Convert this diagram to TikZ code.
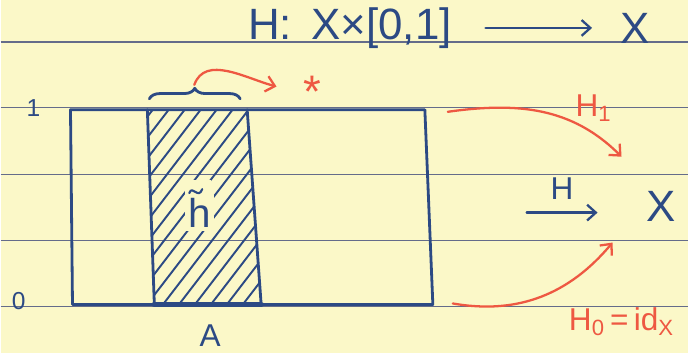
\documentclass[tikz,border=0pt]{standalone}
\usepackage{fontspec}
\setmainfont{Liberation Sans}
\usetikzlibrary{positioning, arrows.meta, calc, decorations.pathreplacing}
\definecolor{paper_yellow}{RGB}{251,248,200}
\definecolor{ink_blue}{RGB}{44,74,132}
\definecolor{ink_red}{RGB}{238,88,66}
\definecolor{rule_grey}{RGB}{100,108,138}

\begin{document}
\begin{tikzpicture}[x=0.02cm, y=-0.02cm, >={Straight Barb[length=5pt,width=9pt]},
    ink/.style={draw=ink_blue, line width=1.6pt, line join=round, line cap=round},
    redink/.style={draw=ink_red, line width=1.3pt, line cap=round, ->},
    bluetxt/.style={text=ink_blue, inner sep=1pt, font=\fontsize{18}{20}\selectfont},
    redtxt/.style={text=ink_red, inner sep=1pt, font=\fontsize{18}{20}\selectfont},
    bigtxt/.style={text=ink_blue, inner sep=2pt, font=\fontsize{25}{28}\selectfont}]
    % paper and ruling
    \fill[paper_yellow] (0,0) rectangle (689,354);
    \foreach \y in {42,108,175,241,307}
      \draw[rule_grey, line width=0.7pt] (0,\y) -- (689,\y);

    % the map H
    \node[bigtxt] (dom) at (350,28) {H:\, X×[0,1]};
    \node[bigtxt] (cod) at (636,28) {X};
    \draw[ink, ->, line width=1.3pt, shorten <=0.6cm, shorten >=0.5cm] (dom.east) -- (cod.west);

    % cylinder X x [0,1]
    \coordinate (tl) at (70,110);
    \coordinate (tr) at (425,110);
    \coordinate (br) at (433,305);
    \coordinate (bl) at (72,305);
    \coordinate (stl) at (147,110);
    \coordinate (str) at (247,110);
    \coordinate (sbr) at (261,305);
    \coordinate (sbl) at (154,305);
    \begin{scope}
      \clip (stl) -- (str) -- (sbr) -- (sbl) -- cycle;
      \foreach \s in {0,...,17}
        \draw[ink, line width=1.1pt] (-5+\s*16,315) -- ++(165,-215);
    \end{scope}
    \draw[ink] (tl) -- (tr) -- (br) -- (bl) -- cycle;
    \draw[ink] (stl) -- (sbl) (str) -- (sbr);
    \draw[ink, line width=3.2pt] (sbl) -- (sbr);
    \node[bluetxt, fill=paper_yellow, inner sep=2pt, font=\fontsize{23}{24}\selectfont] (htil) at (199,213) {h};
    \fill[paper_yellow] ($(htil.north)+(-14,-14)$) rectangle ($(htil.north)+(12,0)$);
    \draw[ink, line width=1.2pt] ($(htil.north)+(-10,-1)$) .. controls ($(htil.north)+(-7,-10)$) and ($(htil.north)+(-1,6)$) .. ($(htil.north)+(3,-5)$);
    \node[bluetxt] (alb) at (210,336) {A};
    \node[bluetxt, font=\fontsize{14}{16}\selectfont] (one) at (33,108) {1};
    \node[bluetxt, font=\fontsize{14}{16}\selectfont] (zero) at (18,302) {0};

    % collapsing the top of the strip
    \draw[ink, decorate, decoration={brace, amplitude=6pt}] (149,99) -- (240,99);
    \coordinate (bracetip) at (194,85);
    \node[redtxt, font=\fontsize{26}{28}\selectfont] (star) at (312,92) {*};
    \draw[redink] (bracetip) to[out=70, in=165] ([xshift=-14pt, yshift=3pt]star.west);

    % the homotopy onto X
    \node[bigtxt] (X) at (662,207) {X};
    \coordinate (hfrom) at (527,213);
    \coordinate (hto) at (598,213);
    \draw[ink, ->, line width=1.3pt] (hfrom) -- node[bluetxt, above=6pt] (hlbl) {H} (hto);
    \coordinate (h1from) at (448,112);
    \coordinate (h1to) at (622,157);
    \draw[redink] (h1from) to[out=8, in=135] (h1to);
    \coordinate (h0from) at (453,304);
    \coordinate (h0to) at (613,243);
    \draw[redink] (h0from) to[out=-10, in=-130] (h0to);
    \node[redtxt] (h1lbl) at (594,108) {H\textsubscript{1}};
    \node[redtxt] (h0lbl) at (622,322) {H\textsubscript{0}\,=\,id\textsubscript{X}};
\end{tikzpicture}
\end{document}
